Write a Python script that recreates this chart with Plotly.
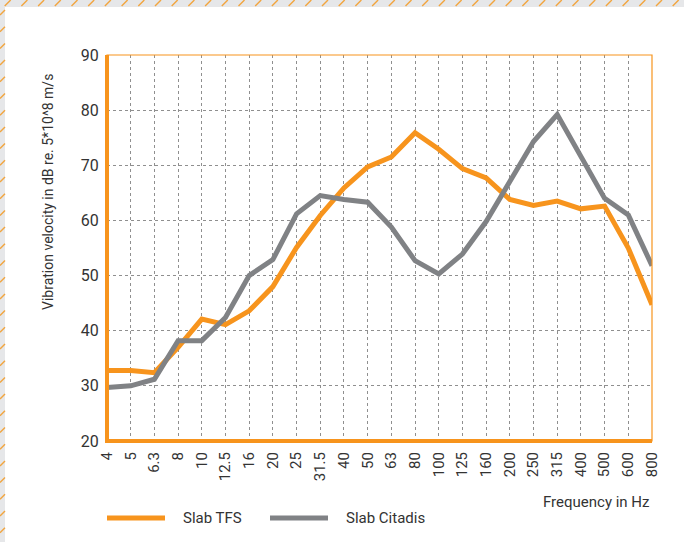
import plotly.graph_objects as go

freqs = ["4", "5", "6.3", "8", "10", "12.5", "16", "20", "25", "31.5", "40", "50",
         "63", "80", "100", "125", "160", "200", "250", "315", "400", "500", "600", "800"]
slab_tfs = [32.8, 32.8, 32.4, 37.0, 42.1, 41.1, 43.6, 48.0, 55.1, 60.9, 65.9, 69.7,
            71.5, 75.9, 72.9, 69.4, 67.7, 63.8, 62.7, 63.5, 62.1, 62.6, 55.0, 44.7]
slab_citadis = [29.7, 30.0, 31.2, 38.2, 38.2, 42.4, 50.0, 52.9, 61.2, 64.5, 63.8, 63.3,
                58.8, 52.7, 50.3, 53.9, 59.8, 67.2, 74.3, 79.2, 71.6, 64.0, 61.0, 51.8]
series_names = ["Slab TFS", "Slab Citadis"]

ORANGE = "#F7941D"
GREY = "#808285"
TEXT = "#333333"
FONT = "Roboto"

W, H = 684, 542
L, R, T, B = 107, 32, 55, 101
PW, PH = W - L - R, H - T - B


def px(xp):
    return (xp - L) / PW


def py(yp):
    return (H - B - yp) / PH


fig = go.Figure()
fig.add_trace(go.Scatter(x=freqs, y=slab_tfs, mode="lines", name=series_names[0],
                         line=dict(color=ORANGE, width=5), showlegend=False))
fig.add_trace(go.Scatter(x=freqs, y=slab_citadis, mode="lines", name=series_names[1],
                         line=dict(color=GREY, width=5), showlegend=False))

shapes = []
# white panel over grey hatched band
shapes.append(dict(type="rect", xref="paper", yref="paper", x0=px(5), x1=px(W + 2),
                   y0=py(7), y1=py(H + 2), fillcolor="white", line=dict(width=0), layer="below"))
# hatch top band
step = 16.7
x = -12.0
while x < W + 10:
    shapes.append(dict(type="line", xref="paper", yref="paper", x0=px(x), y0=py(6),
                       x1=px(x + 6), y1=py(0), line=dict(color="#F2A53F", width=1.4)))
    x += step
# hatch left band
y = 10.0
while y < H + 10:
    shapes.append(dict(type="line", xref="paper", yref="paper", x0=px(0), y0=py(y + 5),
                       x1=px(5), y1=py(y), line=dict(color="#F2A53F", width=1.4)))
    y += step
# plot frame
shapes.append(dict(type="rect", xref="paper", yref="paper", x0=0, x1=1, y0=0, y1=1,
                   line=dict(color=ORANGE, width=1.2), layer="above"))
shapes.append(dict(type="line", xref="paper", yref="paper", x0=0, x1=0, y0=py(H - B + 2), y1=1,
                   line=dict(color=ORANGE, width=4), layer="above"))
shapes.append(dict(type="line", xref="paper", yref="paper", x0=px(L - 2), x1=1, y0=0, y1=0,
                   line=dict(color=ORANGE, width=4), layer="above"))
# legend lines
ly = py(518)
shapes.append(dict(type="line", xref="paper", yref="paper", x0=px(107), x1=px(165), y0=ly, y1=ly,
                   line=dict(color=ORANGE, width=5)))
shapes.append(dict(type="line", xref="paper", yref="paper", x0=px(270), x1=px(328), y0=ly, y1=ly,
                   line=dict(color=GREY, width=5)))

annotations = [
    dict(text="Frequency in Hz", xref="paper", yref="paper", x=1, y=py(502), xanchor="right",
         yanchor="middle", showarrow=False, font=dict(family=FONT, size=15, color=TEXT)),
    dict(text=series_names[0], xref="paper", yref="paper", x=px(181), y=ly, xanchor="left",
         yanchor="middle", showarrow=False, font=dict(family=FONT, size=15, color=TEXT)),
    dict(text=series_names[1], xref="paper", yref="paper", x=px(344), y=ly, xanchor="left",
         yanchor="middle", showarrow=False, font=dict(family=FONT, size=15, color=TEXT)),
    dict(text="Vibration velocity in dB re. 5*10^8 m/s", xref="paper", yref="paper",
         x=px(48), y=py(192), xanchor="center", yanchor="middle", textangle=-90,
         showarrow=False, font=dict(family=FONT, size=14, color=TEXT)),
]

fig.update_layout(
    width=W, height=H,
    margin=dict(l=L, r=R, t=T, b=B, pad=0, autoexpand=False),
    paper_bgcolor="#E6E7E9",
    plot_bgcolor="white",
    font=dict(family=FONT, color=TEXT, size=15),
    shapes=shapes,
    annotations=annotations,
    showlegend=False,
    xaxis=dict(type="category", range=[0, len(freqs) - 1], showgrid=True, griddash="dot",
               gridcolor="#8f8f8f", gridwidth=1, tickangle=-90, ticks="outside", ticklen=4,
               tickcolor="rgba(0,0,0,0)", showline=False, automargin=False,
               zeroline=False, tickfont=dict(family=FONT, size=15, color=TEXT),
               categoryorder="array", categoryarray=freqs),
    yaxis=dict(range=[20, 90], dtick=10, showgrid=True, griddash="dot", gridcolor="#8f8f8f",
               gridwidth=1, ticks="outside", ticklen=4, tickcolor="rgba(0,0,0,0)",
               showline=False, zeroline=False, automargin=False,
               tickfont=dict(family=FONT, size=16, color=TEXT)),
)

fig.write_html("out.html", config={"displayModeBar": False},
               post_script="document.body.style.margin='0px';")
